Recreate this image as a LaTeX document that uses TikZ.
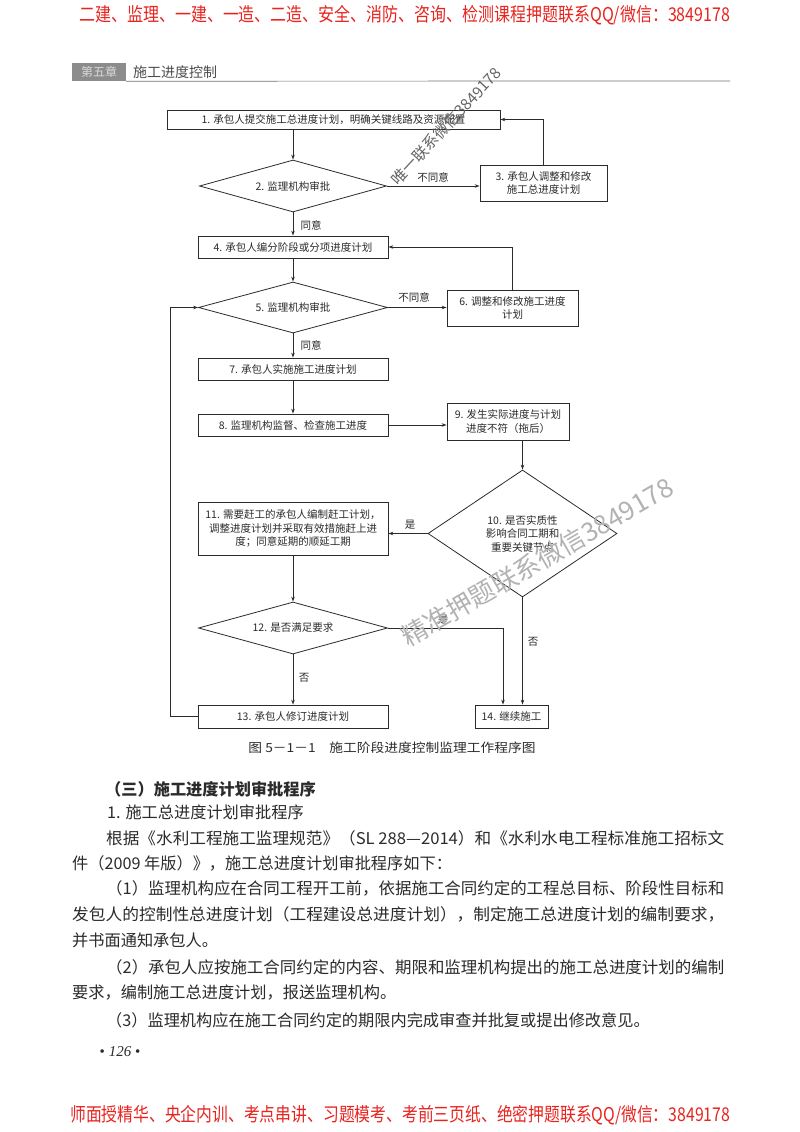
\documentclass[tikz,border=0pt]{standalone}
\usepackage{fontspec}
\usepackage{graphicx}
\setmainfont{Noto Sans CJK SC}
\newfontfamily\pgfont{Liberation Serif}
\usetikzlibrary{shapes.geometric,arrows.meta}
\definecolor{bannerred}{HTML}{E8241F}
\definecolor{ink}{HTML}{2B2B2B}
\newcommand\fitw[2]{\resizebox{#1}{\height}{#2}}
\begin{document}
\begin{tikzpicture}[x=1pt,y=-1pt,
  box/.style={draw=ink, line width=0.8pt, rectangle, inner sep=0pt, align=center,
    font=\fontsize{10.5}{13.5}\selectfont, text=ink},
  dia/.style={draw=ink, line width=0.8pt, diamond, inner sep=0pt, align=center,
    font=\fontsize{10.5}{13.5}\selectfont, text=ink},
  arr/.style={draw=ink, line width=0.8pt, -{Stealth[length=5pt,width=3.5pt]}},
  lab/.style={font=\fontsize{10.5}{12}\selectfont, text=ink, inner sep=0pt},
  body/.style={anchor=west, inner sep=0pt, font=\fontsize{16.2}{19}\selectfont, text=ink},
  banner/.style={anchor=west, inner sep=0pt, text=bannerred, font=\fontsize{19}{21}\selectfont},
]
\fill[white] (0,0) rectangle (800,1132);
\useasboundingbox (0,0) rectangle (800,1132);

% banners
\node[banner] (topban) at (79,15) {\fitw{651pt}{二建、监理、一建、一造、二造、安全、消防、咨询、检测课程押题联系QQ/微信：3849178}};
\node[banner] (botban) at (70,1115) {\fitw{660pt}{师面授精华、央企内训、考点串讲、习题模考、考前三页纸、绝密押题联系QQ/微信：3849178}};

% header
\node[fill=black!45, text=white!85!black, inner sep=0pt, minimum width=54pt, minimum height=18pt,
  font=\fontsize{12}{14}\selectfont] (chap) at (99,72) {第五章};
\node[anchor=west, inner sep=0pt, text=black!70, font=\fontsize{14}{16}\selectfont] (chaptitle) at (133,72) {施工进度控制};
\draw[black!55, line width=0.7pt] (chap.south east) -- (730,81);

% flowchart nodes
\node[box, minimum width=333pt, minimum height=19pt] (b1) at (333.5,119.5) {1. 承包人提交施工总进度计划，明确关键线路及资源配置};
\node[dia, aspect=3.6, minimum width=187pt, minimum height=52pt] (d2) at (293,186) {2. 监理机构审批};
\node[box, minimum width=127pt, minimum height=36pt] (b3) at (543.5,183) {3. 承包人调整和修改\\施工总进度计划};
\node[box, minimum width=190pt, minimum height=22pt] (b4) at (293,247) {4. 承包人编分阶段或分项进度计划};
\node[dia, aspect=3.7, minimum width=189pt, minimum height=51pt] (d5) at (293,307.5) {5. 监理机构审批};
\node[box, minimum width=131pt, minimum height=36pt] (b6) at (512.5,308) {6. 调整和修改施工进度\\计划};
\node[box, minimum width=190pt, minimum height=22pt] (b7) at (293,369) {7. 承包人实施施工进度计划};
\node[box, minimum width=190pt, minimum height=22pt] (b8) at (293,425) {8. 监理机构监督、检查施工进度};
\node[box, minimum width=122pt, minimum height=37pt] (b9) at (508,421.5) {9. 发生实际进度与计划\\进度不符（拖后）};
\node[dia, aspect=1.49, minimum width=189pt, minimum height=127pt] (d10) at (522.5,533.5) {10. 是否实质性\\影响合同工期和\\重要关键节点};
\node[box, minimum width=190pt, minimum height=53pt] (b11) at (293,528.5) {11. 需要赶工的承包人编制赶工计划，\\调整进度计划并采取有效措施赶上进\\度；同意延期的顺延工期};
\node[dia, aspect=3.63, minimum width=189pt, minimum height=52pt] (d12) at (293,628) {12. 是否满足要求};
\node[box, minimum width=190pt, minimum height=23pt] (b13) at (293,716.5) {13. 承包人修订进度计划};
\node[box, minimum width=73pt, minimum height=23pt] (b14) at (511.5,716.5) {14. 继续施工};

\coordinate (k12) at (503,0);
\coordinate (kL) at (170,0);

% connectors
\draw[arr] (b1.south -| d2.north) -- (d2.north);
\draw[arr] (d2.east) -- (b3.west |- d2.east);
\draw[arr] (b3.north) |- (b1.east);
\draw[arr] (d2.south) -- (b4.north);
\draw[arr] (b4.south) -- (d5.north);
\draw[arr] (d5.east) -- (b6.west |- d5.east);
\draw[arr] (b6.north) |- (b4.east);
\draw[arr] (d5.south) -- (b7.north);
\draw[arr] (b7.south) -- (b8.north);
\draw[arr] (b8.east) -- (b9.west |- b8.east);
\draw[arr] (b9.south -| d10.north) -- (d10.north);
\draw[arr] (d10.west) -- (b11.east |- d10.west);
\draw[arr] (b11.south) -- (d12.north);
\draw[arr] (d12.south) -- (b13.north);
\draw[arr] (d12.east) -| (b14.north -| k12);
\draw[arr] (d10.south) -- (b14.north -| d10.south);
\draw[arr] (b13.west) -- (kL |- b13.west) -- (kL |- d5.west) -- (d5.west);

% connector labels
\node[lab] (l1) at (433,177) {不同意};
\node[lab] (l2) at (311,225) {同意};
\node[lab] (l3) at (414,297) {不同意};
\node[lab] (l4) at (311,345) {同意};
\node[lab] (l5) at (410,525) {是};
\node[lab] (l6) at (443,620) {是};
\node[lab] (l7) at (304,678) {否};
\node[lab] (l8) at (533,642) {否};

% caption
\node[inner sep=0pt, text=ink, font=\fontsize{12.5}{14}\selectfont] (cap) at (392,748) {\fitw{287pt}{图 5－1－1\quad 施工阶段进度控制监理工作程序图}};

% body text
\node[body, font=\fontsize{16.2}{19}\selectfont\bfseries] (h3) at (105,789) {（三）施工进度计划审批程序};
\node[body] (t1) at (107,812) {1. 施工总进度计划审批程序};
\node[body] (t2) at (106,838) {\fitw{618pt}{根据《水利工程施工监理规范》（SL 288—2014）和《水利水电工程标准施工招标文}};
\node[body] (t3) at (72,863) {件（2009 年版）》，施工总进度计划审批程序如下：};
\node[body] (t4) at (106,888) {\fitw{618pt}{（1）监理机构应在合同工程开工前，依据施工合同约定的工程总目标、阶段性目标和}};
\node[body] (t5) at (72,914) {\fitw{652pt}{发包人的控制性总进度计划（工程建设总进度计划），制定施工总进度计划的编制要求，}};
\node[body] (t6) at (72,940) {并书面通知承包人。};
\node[body] (t7) at (106,967) {\fitw{618pt}{（2）承包人应按施工合同约定的内容、期限和监理机构提出的施工总进度计划的编制}};
\node[body] (t8) at (72,993) {要求，编制施工总进度计划，报送监理机构。};
\node[body] (t9) at (106,1020) {（3）监理机构应在施工合同约定的期限内完成审查并批复或提出修改意见。};

% page number
\node[inner sep=0pt, text=ink, font=\pgfont\fontsize{15}{17}\selectfont] (pg) at (120,1052) {•\ \textit{126}\ •};

% watermarks
\node[inner sep=0pt, text=black!60, rotate=47, font=\fontsize{15.5}{17}\selectfont] (wm1) at (446,126) {唯一联系微信3849178};
\node[inner sep=0pt, text=black!30, rotate=30, font=\fontsize{26}{28}\selectfont] (wm2) at (537,562) {精准押题联系微信3849178};
\end{tikzpicture}
\end{document}
